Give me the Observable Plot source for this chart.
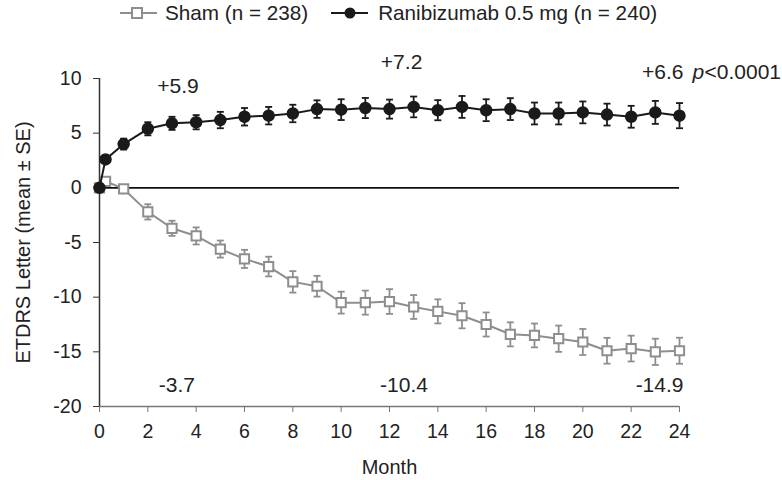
<!DOCTYPE html>
<html><head><meta charset="utf-8">
<script src="https://cdn.jsdelivr.net/npm/d3@7"></script>
<script src="https://cdn.jsdelivr.net/npm/@observablehq/plot@0.6"></script>
<style>
body{margin:0;background:#fff;font-family:"Liberation Sans",Arial,Helvetica,sans-serif;}
#wrap{position:relative;width:782px;height:480px;overflow:hidden;}
#legend{position:absolute;top:0;left:120px;height:26px;display:flex;align-items:center;font-size:20.7px;color:#222;white-space:nowrap;}
#legend svg{display:block;}
#chart{position:absolute;top:30px;left:0;}
</style></head><body>
<div id="wrap"><div id="legend"></div><div id="chart"></div></div>
<script>
// Visit months (day 7 shown as 0.25)
const months = [0, 0.25, 1, 2, 3, 4, 5, 6, 7, 8, 9, 10, 11, 12, 13, 14, 15, 16, 17, 18, 19, 20, 21, 22, 23, 24];
// Ranibizumab 0.5 mg (n = 240): mean change and SE
const raniMean = [0, 2.6, 4.0, 5.4, 5.9, 6.0, 6.2, 6.5, 6.6, 6.8, 7.2, 7.15, 7.3, 7.2, 7.4, 7.1, 7.4, 7.1, 7.2, 6.8, 6.8, 6.9, 6.7, 6.5, 6.9, 6.6];
const raniSE   = [0, 0.3, 0.5, 0.6, 0.6, 0.65, 0.75, 0.8, 0.8, 0.8, 0.8, 0.95, 0.92, 0.87, 0.95, 0.92, 1.0, 1.0, 1.0, 1.0, 1.0, 1.0, 1.0, 1.0, 1.05, 1.15];
// Sham (n = 238)
const shamMean = [0, 0.6, -0.1, -2.2, -3.7, -4.4, -5.6, -6.5, -7.2, -8.6, -9.0, -10.5, -10.5, -10.4, -10.9, -11.3, -11.7, -12.5, -13.4, -13.5, -13.8, -14.1, -14.9, -14.7, -15.0, -14.9];
const shamSE   = [0, 0.2, 0.3, 0.7, 0.69, 0.78, 0.78, 0.83, 0.9, 0.98, 0.95, 1.0, 1.1, 1.13, 1.09, 1.1, 1.15, 1.1, 1.1, 1.09, 1.2, 1.19, 1.18, 1.18, 1.2, 1.19];

const seriesNames = ["Sham (n = 238)", "Ranibizumab 0.5 mg (n = 240)"];
const xTicks = [0, 2, 4, 6, 8, 10, 12, 14, 16, 18, 20, 22, 24];
const yTicks = [-20, -15, -10, -5, 0, 5, 10];
const xLabel = "Month";
const yLabel = "ETDRS Letter (mean ± SE)";

// Annotations (values at months 3, 12, 24)
const annTop = ["+5.9", "+7.2"];
const annTopX = [3.25, 12.5];
const annTopY = [9.25, 11.5];
const annBot = ["-3.7", "-10.4"];
const annBotX = [3.2, 12.6];
const annBotY = -18.05;
const annEnd = ["+6.6", "-14.9"];
const annEndY = [10.6, -18.05];
const pText = ["p", "<0.0001"];

const FONT = '"Liberation Sans", Arial, Helvetica, sans-serif';
const GRAY = "#8e8e8e";
const BLACK = "#1a1a1a";

const rani = months.map((m, i) => ({month: m, mean: raniMean[i], se: raniSE[i]}));
const sham = months.map((m, i) => ({month: m, mean: shamMean[i], se: shamSE[i]}));
const raniErr = rani.filter(d => d.se > 0);
const shamErr = sham.filter(d => d.se > 0);
const caps = arr => arr.flatMap(d => [{month: d.month, v: d.mean - d.se}, {month: d.month, v: d.mean + d.se}]);

const capSymbol = {draw(ctx, size) { const w = Math.sqrt(size / Math.PI); ctx.moveTo(-w, 0); ctx.lineTo(w, 0); }};

const annMidRows = [
  ...annTop.map((t, i) => ({t, x: annTopX[i], y: annTopY[i]})),
  ...annBot.map((t, i) => ({t, x: annBotX[i], y: annBotY}))
];
const annEndRows = annEnd.map((t, i) => ({t, x: 24, y: annEndY[i]}));

const txt = {fontSize: 21, fill: "#222", lineAnchor: "middle"};

const chart = Plot.plot({
  width: 782, height: 450,
  marginTop: 48, marginBottom: 74, marginLeft: 99, marginRight: 103,
  x: {domain: [0, 24]},
  y: {domain: [-20, 10]},
  style: {fontFamily: FONT, fontSize: "19px", color: "#222", background: "white", overflow: "visible"},
  marks: [
    Plot.axisX({ticks: xTicks, tickSize: 6, tickPadding: 12, label: null, stroke: "#777", fill: "#222", fontSize: 19.5, tickFormat: d => `${d}`}),
    Plot.axisY({ticks: yTicks, tickSize: 6, tickPadding: 12, label: null, stroke: "#333", fill: "#222", fontSize: 19.5, tickFormat: d => `${d}`}),
    Plot.ruleY([-20], {stroke: "#777", strokeWidth: 1.5}),
    Plot.ruleX([0], {stroke: "#333", strokeWidth: 1.5}),
    Plot.ruleY([0], {stroke: "#111", strokeWidth: 1.6}),
    // Sham
    Plot.ruleX(shamErr, {x: "month", y1: d => d.mean - d.se, y2: d => d.mean + d.se, stroke: GRAY, strokeWidth: 1.8}),
    Plot.dot(caps(shamErr), {x: "month", y: "v", symbol: capSymbol, r: 3.5, stroke: GRAY, strokeWidth: 1.8}),
    Plot.line(sham, {x: "month", y: "mean", stroke: GRAY, strokeWidth: 2}),
    Plot.dot(sham, {x: "month", y: "mean", symbol: "square", r: 5.2, fill: "white", stroke: GRAY, strokeWidth: 2}),
    // Ranibizumab
    Plot.ruleX(raniErr, {x: "month", y1: d => d.mean - d.se, y2: d => d.mean + d.se, stroke: BLACK, strokeWidth: 1.8}),
    Plot.dot(caps(raniErr), {x: "month", y: "v", symbol: capSymbol, r: 3.5, stroke: BLACK, strokeWidth: 1.8}),
    Plot.line(rani, {x: "month", y: "mean", stroke: BLACK, strokeWidth: 2}),
    Plot.dot(rani, {x: "month", y: "mean", r: 5.5, fill: BLACK, stroke: BLACK}),
    // Annotations
    Plot.text(annMidRows, {x: "x", y: "y", text: "t", textAnchor: "middle", ...txt}),
    Plot.text(annEndRows, {x: "x", y: "y", text: "t", textAnchor: "end", dx: 4, ...txt}),
    Plot.text([pText[0]], {x: 24, y: annEndY[0], text: d => d, dx: 13, fontStyle: "italic", textAnchor: "start", ...txt}),
    Plot.text([pText[1]], {x: 24, y: annEndY[0], text: d => d, dx: 25, textAnchor: "start", ...txt}),
    // Axis titles
    Plot.text([xLabel], {frameAnchor: "bottom", text: d => d, dy: 61, fontSize: 20, fill: "#222", lineAnchor: "middle", textAnchor: "middle"}),
    Plot.text([yLabel], {frameAnchor: "left", text: d => d, dx: -76, rotate: -90, fontSize: 20, fill: "#222", lineAnchor: "middle", textAnchor: "middle"})
  ]
});
document.getElementById("chart").appendChild(chart);

// Legend
const legend = document.getElementById("legend");
const shamIcon = `<svg width="37" height="16"><line x1="0" x2="37" y1="8" y2="8" stroke="${GRAY}" stroke-width="2"/><rect x="12" y="3" width="10" height="10" fill="white" stroke="${GRAY}" stroke-width="2"/></svg>`;
const raniIcon = `<svg width="37" height="16"><line x1="0" x2="37" y1="8" y2="8" stroke="${BLACK}" stroke-width="2"/><circle cx="19" cy="8" r="5.5" fill="${BLACK}"/></svg>`;
legend.innerHTML =
  `<span style="display:flex;align-items:center">${shamIcon}<span style="margin-left:8px">${seriesNames[0]}</span></span>` +
  `<span style="display:flex;align-items:center;margin-left:23px">${raniIcon}<span style="margin-left:10px">${seriesNames[1]}</span></span>`;
</script>
</body></html>
